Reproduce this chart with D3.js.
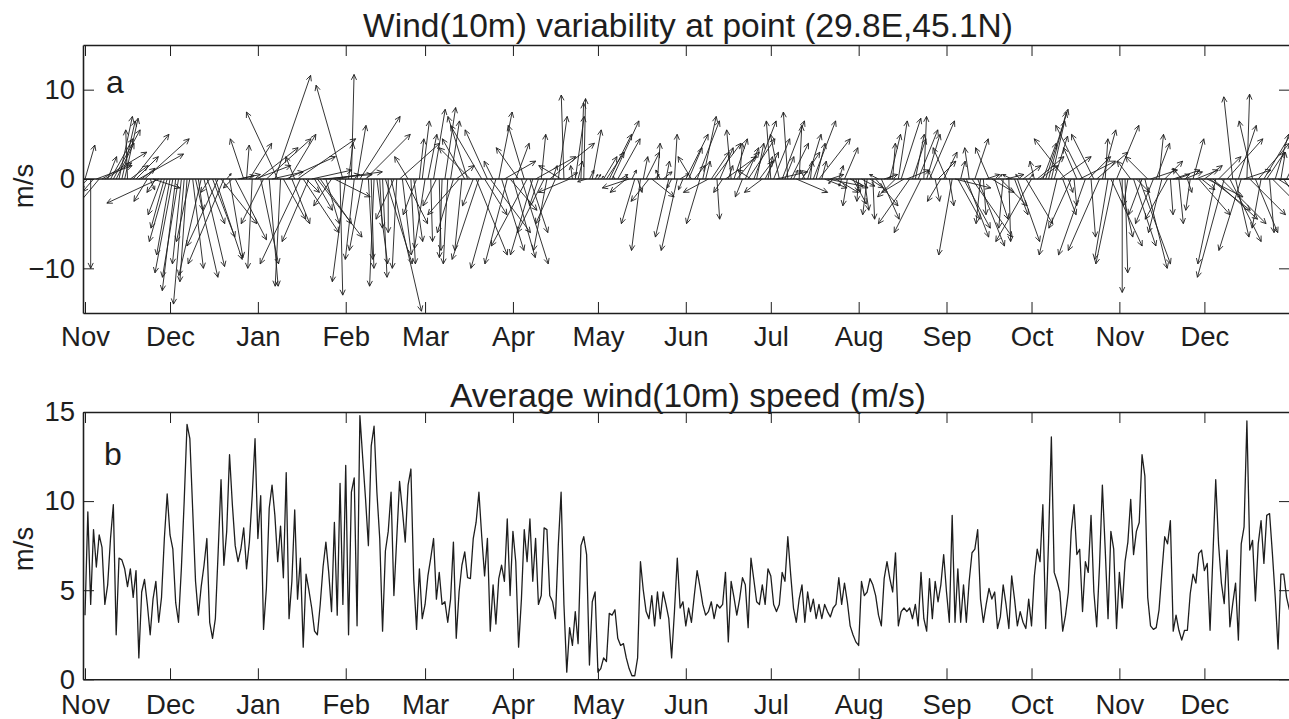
<!DOCTYPE html>
<html>
<head>
<meta charset="utf-8">
<script src="https://cdn.jsdelivr.net/npm/d3@7"></script>
<style>
  body { margin: 0; background: #fff; }
  svg { display: block; }
  text { font-family: "Liberation Sans", Arial, Helvetica, sans-serif; fill: #1e1e1e; }
</style>
</head>
<body>
<svg width="1289" height="719"></svg>
<script>
// daily values from 1 Nov to 31 Dec of the following year (426 days)
const startDay = Date.UTC(2002, 10, 1);

// panel a: daily wind vector components (m/s)
const uWind = [
  1.1, -1.5, 0, -1.2, 4, -2.5, 5, 3, 1, 2.5,
  3, 2, 1.5, 1.5, 1.5, -0.2, 2, 4, 2.5, 5,
  1.5, 5, -1.5, 0.5, 3, -1, -5.8, -1.5, -1.5, -2,
  -1.5, -2, -1.5, -1.8, -1, -1.2, -0.8, -1.5, 1.2, 2.5,
  0.5, -2.5, 2.3, 2, -1, 2.5, 3, -3.5, 4, -4,
  0.5, 1.5, -1, 3.5, 2.5, 1.5, -1.5, 0.3, 2.5, -0.5,
  4, 4.5, 2, -2.5, 5, 1, 3.5, 4, -3.5, -0.6,
  2.5, 5.5, 3, 2, -1, 6.5, -4.5, 4, 1.5, -3,
  4.5, 2, 5, 3.5, 5.5, 1.5, 6, -2, 4, 2.5,
  0.3, -3, -1.5, 0.5, 0.3, -1, 1, 4.5, -1.5, 5,
  0.5, 0.3, -0.5, 1.2, 0.3, 0.5, 3, 0, 3.4, -2,
  -0.5, 4.5, 1, 2.5, -1.5, 0.5, 1, -1.5, 0.5, 0.8,
  -1.2, 1, 0.2, 1.3, -1.5, 0.2, -0.3, 1.2, -0.5, 1,
  -1.8, 2, -3.5, -0.8, -2.5, -2.2, -3.5, -1.2, 3.5, -3,
  -3.5, 2.5, -2.5, 4.5, -1, -2.8, 1.5, 2.5, 3.5, -2.5,
  3, 2.5, 1.5, -2.5, 3, -1.8, -4, 2, -2.5, 4.5,
  -1, 0.5, -3, -1.5, 5, 0.5, -2.2, 1, -2.5, -0.3,
  1.2, -3.5, -0.2, 1, 0.5, 0.3, 0.2, -1, 0.5, 1,
  0.3, 0.3, 0.3, 1.5, 2, 2.5, 3, -0.2, 2.5, 0.8,
  0.5, -1.8, -3, 0.5, -1.5, 0.5, -1, 0.5, 1.5, -2,
  2.5, 0.5, 0.3, -0.5, 1, 0.4, -1.5, -0.5, 0.3, -1.8,
  1, -0.5, 2.5, 1.5, -1.5, 1.2, 2.5, -1.5, 1.5, 0.5,
  -2.8, 2, 3, 0.3, 1.5, -1, 3.5, 0.5, -0.5, 1.5,
  2.5, 0.3, -0.8, 1.5, 3, -1.5, 2.5, 0.8, 1.5, -2,
  1.5, 0.5, -0.5, 1.8, 3.5, -1, 2.5, 1, -0.5, 2,
  0.5, 3.5, 0.3, 2, -0.5, 1.5, 0.2, 2.5, 1, 3.5,
  0.5, 2.5, 4, 1.5, -0.5, 2.5, 0.5, -0.3, 1.5, -0.5,
  2, 1.5, 0.5, -0.2, 1.5, 0.5, -0.5, 1.5, 0.2, 2.5,
  -1, 2, 1.5, 0.5, 1.2, 0.3, -2, 1, 2.2, -2.5,
  2.5, -3.5, 1.5, 1, 2.2, -3, 0.3, 1.5, 2.8, -0.5,
  0.5, 2, -1.5, 1.5, -1.5, 0.5, -1.5, 4, 2.5, 0.5,
  3, 2.5, -0.5, 4.5, 1.5, 3, -0.5, 0.3, 1.5, -1.5,
  2.5, 1.5, 0.5, 3, -0.5, 2, 0.2, -1, 1.5, 2.5,
  -0.5, 2, 3, 0.5, -4, -0.5, 3, 2, 1.5, 2.5,
  2, 1.5, 1.5, -2, 3.5, 1.5, -3.5, 0.5, -2.5, 0.3,
  -1.5, 4, -3, -3, 2.5, 0.5, -2.5, 3.5, -3.5, 1.5,
  0.3, -1.5, 3.5, -2, 2.5, 1.5, 0, 0.3, -0.5, -1.5,
  2.5, 1.5, 3.5, -1.5, 2.5, -2.5, 3, -2, 1.5, 0.5,
  -1.5, 2, -2.5, 0.3, 3, 1.5, 0.5, -1, 2, 0.5,
  -0.5, 1.2, 2.5, 3.5, 1.5, 2, 4, 4.5, 5, -2,
  2.5, 5, -3, 4, 3.5, -1, 1.5, 2, -2.5, 3,
  0.3, 4, -1.5, 2.5, 3.5, -1, 4.5, 2, 0.5, 3.5,
  1.5, 4, 0.5, 2, 1, 0.5
];
const vWind = [
  3.8, -1.5, -10, -1.4, 1.5, -3, 3, 1.8, 2.5, 4.5,
  5.5, 4, 7, 6.5, 6.8, 5.5, 1.5, 5, 2.5, 2.8,
  1.2, 4.5, -2.5, -1.2, -1, -1.5, -2.7, -4, -5.5, -7,
  -8.5, -10.5, -12.5, -11, -9.5, -14, -11.5, -7, -10, -11,
  -3.5, -10.8, -9.8, -5, -1.5, -6.5, -9, -7.5, -5, -9.5,
  0.6, -8.8, -1, -6.8, 0.5, 0.4, 4.5, 3.8, 4, -10,
  1.5, 3.5, -9.5, -5, 4.5, -12, 0.8, 11.6, 7.5, -12,
  -4.5, 2.5, 5, -5, 2.5, 4.5, -9.5, -6, -1.5, -7,
  1, -3.5, -6.5, -5, 0.5, -5, 0.8, -3, -2, 0.5,
  -13, 10.5, -11.5, 4, 11.7, -9, 6, 7, -8, 5,
  -9, -10, -12, -9.5, -5.5, -11, -9.5, -6, -14.8, -4.5,
  -10, 4, -8.5, -5, 2.5, -9.5, -7, -4, 4.5, 6.5,
  -7.8, 5, -7, 7.8, -3, -8, -8.8, 8, -9.5, 6.5,
  -6, 1.5, -4, -8, 4.5, 7, 3.5, -3, -8.5, -9,
  6, -4, 5.5, -6, 2, -10, 7.5, -8, 2, -9.5,
  -3.5, -8.8, 4, 3.5, -9.5, 6, -7.5, -6, -8.5, 2.5,
  -3, 5, -6, -8, 4, 1.5, -5, 7, 1.5, 9.4,
  0.7, -1.5, 1.5, 7, 2, 8.5, 9, -0.3, 1, 5.5,
  0.5, 0.5, 0.3, 2.5, 3, 5, 6.5, 0.3, 4.5, 0.5,
  0.2, -1.5, -1, 1, -5, -1.5, -8, 2.5, 3, -2.5,
  -2, 0.5, 4, 1, 0.8, 2, -6.5, -1, 5, -8,
  0.6, -1.2, 5, 3.5, 2.5, 1.5, 6.5, -5, 7, 2,
  -1.5, 3, 4, -4.5, 3.5, -1.5, 2.5, 1.5, 5.5, 4.5,
  3, 4, -2, 3.5, 4.5, 1, 6.5, 4, 2, -1.5,
  3, 2.5, 6.5, 4.5, 0.8, 5, 6.5, 2.5, 7.5, 4,
  1, -1.5, 6, 3, 1, 5, 2, 6.5, 4, 4.5,
  2, -1, -0.8, 0.5, -0.5, -1.5, 1.5, -0.8, 3.5, -3,
  -1, -2.8, -1.5, -2.5, -0.8, -3.5, -4, -1, -4.5, -3,
  0.5, -4.5, 0.5, 0.3, 5, 4, -2, 6.5, 6.8, -1.5,
  1, -5, 4.5, 5, 5.5, -6, 7, 5, 6.5, 1,
  -2.5, 2, -2.5, 3, 3.5, -3, -8.5, -1, -4.5, 2,
  -5.5, -6.5, 3.5, -6.5, 4.5, -7.5, -5, -4, 0.5, 3.5,
  -1.5, -4.5, 0.5, -3, -5.5, 0.5, -7, 0.5, -4, -7,
  0.5, 1.5, -5, 0.5, -7, 2, 2.5, 1.5, 4, 7.8,
  7.5, 6.5, 4.8, -8.5, 2.5, -4, 4.5, -1.5, -5.5, -3,
  3.5, 2, 6, -8.5, 2.5, -6.5, 5, 3, -8, 5.5,
  4.5, -9, -7.5, -9.5, 6, -6.5, -12.7, -10.5, -3, 2,
  -7.5, -1.5, -9.5, -4, -10, 2.5, 1, -5, 4, 5,
  -6, 2, -4.5, -4, 1, 0.5, -5, 1.2, 0.8, -1.5,
  -3.5, 4.5, 1, -4, -1.2, 1.5, -2, -3.5, -4.5, -9.5,
  2.5, -5, -11, 4.5, -7, 9.2, -6.5, 6, -8, 1,
  9.5, -4, 6.5, -6, 4, -5.5, 7.5, 3, -6, -3.5,
  5, -2.5, 3, -3, 2, -1
];

// panel b: average wind speed (m/s)
const speed = [
  3.6, 9.4, 4.2, 8.4, 6.3, 8.1, 7.4, 4.2, 5.3, 7.9,
  9.8, 2.5, 6.8, 6.7, 6.2, 5.2, 6.2, 4.6, 6.1, 1.2,
  4.9, 5.6, 4.2, 2.5, 4.5, 5.5, 3.2, 4.6, 7.9, 10.4,
  8.1, 7.3, 4.3, 3.2, 6.2, 10.0, 14.3, 13.5, 9.5, 5.5,
  3.6, 5.2, 6.4, 7.9, 3.2, 2.3, 3.4, 7.2, 11.2, 6.4,
  8.3, 12.6, 9.8, 7.5, 6.6, 7.3, 8.5, 6.2, 7.7, 10.3,
  13.5, 7.9, 10.3, 2.8, 5.1, 9.6, 10.9, 9.2, 6.6, 8.6,
  5.7, 11.6, 3.4, 5.5, 9.5, 4.5, 6.8, 1.8, 5.9, 5.0,
  4.0, 2.7, 2.5, 4.2, 6.3, 7.7, 6.0, 3.8, 8.8, 3.6,
  11.0, 4.2, 12.0, 2.5, 10.5, 11.3, 3.0, 14.8, 12.4, 10.1,
  7.5, 13.1, 14.2, 10.5, 7.9, 2.7, 7.2, 8.3, 10.5, 4.7,
  7.9, 11.1, 9.5, 7.7, 10.9, 11.8, 5.6, 2.8, 6.2, 3.4,
  4.2, 5.8, 6.8, 7.9, 4.5, 6.0, 4.2, 4.35, 3.2, 4.5,
  7.7, 2.3, 4.9, 6.4, 7.15, 5.7, 5.65, 7.9, 8.8, 10.5,
  8.0, 5.8, 7.9, 2.7, 5.3, 3.1, 5.65, 6.4, 5.5, 9.0,
  4.7, 8.3, 6.6, 1.8, 4.5, 8.4, 6.6, 9.0, 5.5, 7.9,
  4.2, 4.7, 8.5, 8.4, 4.7, 4.35, 3.4, 7.5, 10.5, 4.2,
  0.4, 2.9, 1.9, 3.8, 2.0, 7.5, 8.0, 7.0, 0.8, 4.35,
  4.9, 0.4, 0.6, 1.2, 1.0, 3.7, 3.6, 3.9, 2.3, 1.9,
  2.0, 1.2, 0.6, 0.2, 0.2, 1.2, 6.6, 5.0, 3.8, 3.4,
  4.7, 3.0, 4.9, 3.4, 4.9, 4.2, 3.4, 1.2, 3.8, 6.8,
  4.0, 4.35, 3.0, 4.0, 3.2, 4.7, 6.1, 5.2, 4.2, 3.6,
  3.8, 4.35, 3.4, 4.2, 4.0, 4.2, 6.0, 2.1, 5.5, 4.6,
  3.6, 4.5, 5.7, 5.3, 2.9, 6.8, 5.6, 4.35, 4.2, 5.3,
  4.2, 6.2, 5.8, 4.2, 3.8, 4.2, 6.0, 5.5, 8.0, 5.9,
  4.0, 3.2, 4.5, 5.3, 3.2, 4.9, 3.8, 4.5, 3.4, 4.2,
  3.4, 4.2, 3.8, 3.5, 4.0, 4.2, 5.7, 4.2, 5.4, 4.35,
  3.0, 2.5, 2.1, 1.9, 5.5, 4.7, 4.9, 5.65, 5.3, 4.7,
  3.6, 3.0, 5.65, 6.6, 5.65, 4.9, 7.1, 3.0, 3.8, 4.0,
  3.8, 4.0, 3.4, 4.2, 3.0, 6.0, 3.4, 2.7, 5.65, 3.4,
  5.5, 4.35, 5.3, 7.0, 4.9, 3.2, 9.2, 3.2, 6.2, 3.2,
  5.3, 3.2, 5.5, 7.1, 7.3, 8.4, 4.5, 3.2, 4.2, 5.1,
  4.5, 4.9, 2.85, 3.5, 5.3, 4.2, 2.85, 5.8, 4.5, 3.0,
  3.8, 3.2, 2.85, 4.5, 3.0, 5.8, 7.3, 6.6, 9.8, 2.85,
  7.7, 13.6, 6.0, 5.5, 4.9, 2.7, 3.6, 4.9, 8.3, 9.8,
  7.0, 7.3, 3.8, 6.6, 6.0, 9.2, 4.9, 2.95, 6.4, 10.9,
  7.3, 3.4, 8.3, 7.3, 2.85, 6.0, 4.0, 6.6, 7.7, 10.1,
  7.0, 8.3, 8.8, 12.6, 11.4, 4.6, 3.0, 2.8, 2.9, 3.9,
  6.0, 8.0, 7.6, 8.9, 2.7, 3.6, 2.75, 2.2, 2.75, 2.75,
  4.8, 5.9, 5.4, 7.05, 7.25, 6.1, 6.5, 2.75, 6.9, 11.2,
  7.6, 5.4, 4.25, 7.25, 2.95, 4.25, 5.4, 2.2, 7.6, 8.55,
  14.5, 7.25, 7.8, 4.4, 7.6, 8.9, 6.5, 9.2, 9.3, 7.05,
  4.6, 1.7, 5.9, 5.9, 4.6, 3.9
];

const titleA = "Wind(10m) variability at point (29.8E,45.1N)";
const titleB = "Average wind(10m) speed (m/s)";
const yTicksA = [-10, 0, 10];
const yTicksB = [0, 5, 10, 15];

const svg = d3.select("svg");
const left = 83, right = 1290;
const panelA = { top: 45, bottom: 313 };
const panelB = { top: 412, bottom: 679.3 };
const FONT = 27.5;
const INK = "#1e1e1e";

const dayDate = (i) => new Date(startDay + i * 864e5);

const x = d3.scaleUtc()
  .domain([new Date(Date.UTC(2002, 9, 31, 7)), new Date(Date.UTC(2003, 11, 31, 5))])
  .range([left, right]);
const yA = d3.scaleLinear().domain([-15, 15]).range([panelA.bottom, panelA.top]);
const yB = d3.scaleLinear().domain([0, 15]).range([panelB.bottom, panelB.top]);

// clip regions
const defs = svg.append("defs");
[["clipA", panelA], ["clipB", panelB]].forEach(([id, p]) => {
  defs.append("clipPath").attr("id", id)
    .append("rect")
    .attr("x", left).attr("y", p.top)
    .attr("width", right - left).attr("height", p.bottom - p.top);
});

//////////// PANEL A : stick plot ////////////

const y0 = yA(0);
const pxPerMs = yA(0) - yA(1); // same scale along x so the sticks keep their direction

const sticks = uWind.map((u, i) => ({ date: dayDate(i), u: u, v: vWind[i] }));

function stickPath(d) {
  const x0 = x(d.date);
  const x1 = x0 + d.u * pxPerMs;
  const y1 = yA(d.v);
  const dx = x1 - x0, dy = y1 - y0;
  const len = Math.sqrt(dx * dx + dy * dy);
  if (len < 0.5) return `M${x0},${y0}L${x1},${y1}`;
  const ang = Math.atan2(dy, dx);
  const h = Math.min(6, 0.35 * len);
  const a1 = ang + Math.PI - 0.45, a2 = ang + Math.PI + 0.45;
  return `M${x0},${y0}L${x1},${y1}` +
    `M${x1 + h * Math.cos(a1)},${y1 + h * Math.sin(a1)}L${x1},${y1}` +
    `L${x1 + h * Math.cos(a2)},${y1 + h * Math.sin(a2)}`;
}

const gA = svg.append("g").attr("clip-path", "url(#clipA)");
gA.append("line")
  .attr("x1", left).attr("x2", right)
  .attr("y1", y0).attr("y2", y0)
  .attr("stroke", INK).attr("stroke-width", 1.4);
gA.selectAll("path.stick")
  .data(sticks)
  .enter()
  .append("path")
  .attr("class", "stick")
  .attr("d", stickPath)
  .attr("fill", "none")
  .attr("stroke", INK)
  .attr("stroke-width", 0.9);

//////////// PANEL B : speed line ////////////

const speedLine = d3.line()
  .x((d, i) => x(dayDate(i)))
  .y((d) => yB(d));

svg.append("g").attr("clip-path", "url(#clipB)")
  .append("path")
  .datum(speed)
  .attr("d", speedLine)
  .attr("fill", "none")
  .attr("stroke", INK)
  .attr("stroke-width", 1.3)
  .attr("stroke-linejoin", "round");

//////////// AXES ////////////

const monthTicks = d3.utcMonth.every(1);

function styleAxis(g) {
  g.attr("font-size", FONT).attr("font-family", null);
  g.select(".domain").attr("stroke", INK).attr("stroke-width", 1.6);
  g.selectAll(".tick line").attr("stroke", INK).attr("stroke-width", 1);
  g.selectAll(".tick text").attr("fill", INK);
}

function drawFrame(p, y, yTicks, labelPad) {
  svg.append("g")
    .attr("transform", `translate(0,${p.bottom})`)
    .call(d3.axisBottom(x).ticks(monthTicks).tickFormat(d3.utcFormat("%b"))
      .tickSizeInner(-11).tickSizeOuter(0).tickPadding(labelPad))
    .call(styleAxis);
  svg.append("g")
    .attr("transform", `translate(0,${p.top})`)
    .call(d3.axisTop(x).ticks(monthTicks).tickFormat("")
      .tickSizeInner(-11).tickSizeOuter(0))
    .call(styleAxis);
  svg.append("g")
    .attr("transform", `translate(${left},0)`)
    .call(d3.axisLeft(y).tickValues(yTicks)
      .tickSizeInner(-11).tickSizeOuter(0).tickPadding(8))
    .call(styleAxis);
  svg.append("g")
    .attr("transform", `translate(${right},0)`)
    .call(d3.axisRight(y).tickValues(yTicks).tickFormat("")
      .tickSizeInner(-11).tickSizeOuter(0))
    .call(styleAxis);
}

drawFrame(panelA, yA, yTicksA, 13);
drawFrame(panelB, yB, yTicksB, 15);

//////////// TEXT ////////////

svg.append("text").attr("x", 688).attr("y", 37)
  .attr("text-anchor", "middle").attr("font-size", 33.5).text(titleA);
svg.append("text").attr("x", 688).attr("y", 407)
  .attr("text-anchor", "middle").attr("font-size", 33.5).text(titleB);

svg.append("text")
  .attr("transform", "translate(33,186) rotate(-90)")
  .attr("text-anchor", "middle").attr("font-size", FONT).text("m/s");
svg.append("text")
  .attr("transform", "translate(33,549) rotate(-90)")
  .attr("text-anchor", "middle").attr("font-size", FONT).text("m/s");

svg.append("text").attr("x", 106).attr("y", 93).attr("font-size", 32).text("a");
svg.append("text").attr("x", 104).attr("y", 465).attr("font-size", 32).text("b");
</script>
</body>
</html>
